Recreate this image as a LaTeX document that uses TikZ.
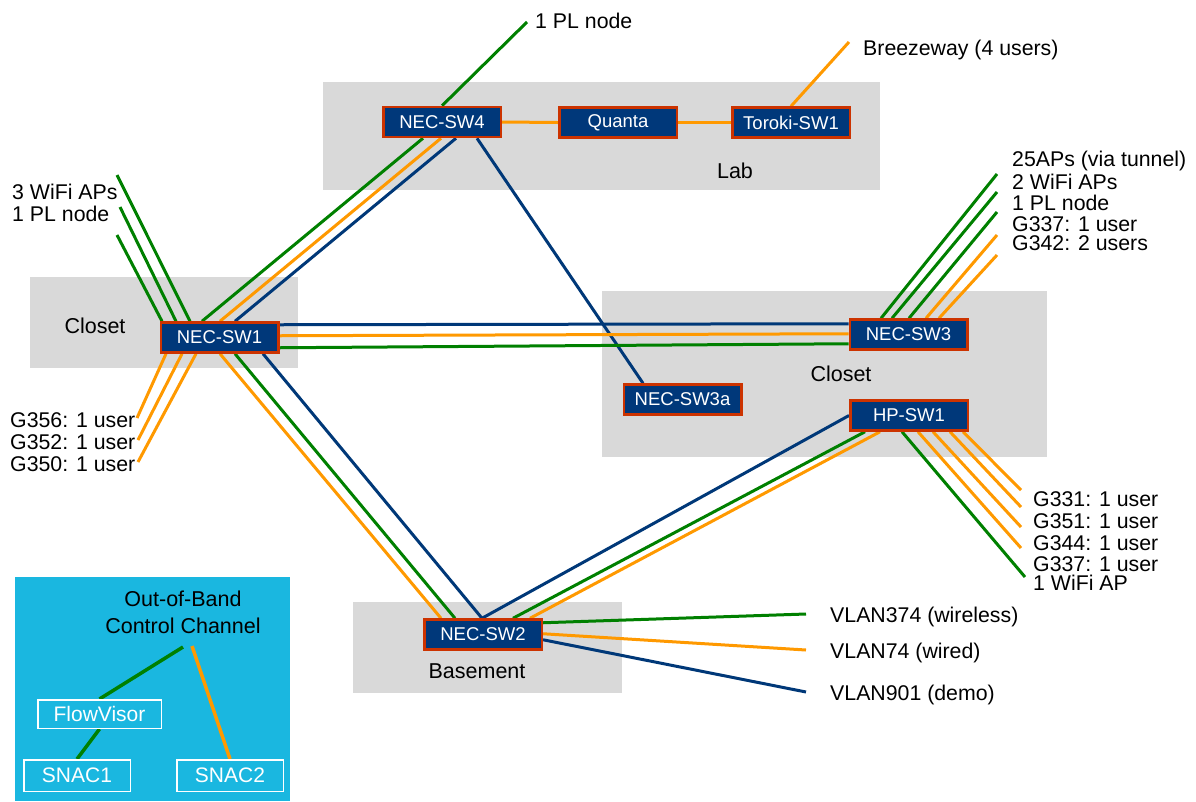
\documentclass[tikz,border=0pt]{standalone}
\usepackage{fontspec}
\setmainfont{Liberation Sans}
\pgfdeclarelayer{bgzero}
\pgfdeclarelayer{bgone}
\pgfsetlayers{bgzero,bgone,main}
\definecolor{gr}{RGB}{0,128,0}
\definecolor{og}{RGB}{255,153,0}
\definecolor{nb}{RGB}{0,56,120}
\definecolor{zone}{RGB}{217,217,217}
\definecolor{sfill}{RGB}{0,56,122}
\definecolor{sedge}{RGB}{204,51,0}
\definecolor{legbg}{RGB}{26,183,224}
\begin{document}
\begin{tikzpicture}[x=1pt,y=-1pt,
 sw/.style={draw=sedge,fill=sfill,line width=2.5pt,minimum width=117.5pt,minimum height=30pt,inner sep=0pt,text=white,font=\fontsize{18.5}{18.5}\selectfont},
 lbl/.style={font=\fontsize{21.3}{21.3}\selectfont,inner sep=0pt,anchor=base west},
 zlbl/.style={font=\fontsize{21.5}{21.5}\selectfont,inner sep=0pt,anchor=base},
 legbox/.style={draw=white,line width=1.5pt,inner sep=0pt,text=white,font=\fontsize{21}{21}\selectfont},
 gl/.style={draw=gr,line width=3pt},
 ol/.style={draw=og,line width=3pt},
 bl/.style={draw=nb,line width=3pt},
 lgl/.style={draw=gr,line width=3.5pt},
 lol/.style={draw=og,line width=3.5pt},
]
\useasboundingbox (0,0) rectangle (1196,801);
% zones
\begin{pgfonlayer}{bgzero}
\fill[zone] (323,82) rectangle (880,190);
\fill[zone] (30,277) rectangle (298,368);
\fill[zone] (602,291) rectangle (1047,457);
\fill[zone] (353,602) rectangle (622,693);
\fill[legbg] (15,577) rectangle (290,801);
\end{pgfonlayer}
\node[zlbl] (lab) at (735,178) {Lab};
\node[zlbl] (closetA) at (95,333) {Closet};
\node[zlbl] (closetB) at (841,381) {Closet};
\node[zlbl] (basement) at (477,678) {Basement};
% switches
\node[sw] (sw4) at (442,122) {NEC-SW4};
\node[sw] (qu) at (618,122.5) {Quanta};
\node[sw] (tk) at (791,122.5) {Toroki-SW1};
\node[sw] (sw1) at (219.5,337.5) {NEC-SW1};
\node[sw] (sw3) at (908.5,334.5) {NEC-SW3};
\node[sw] (sw3a) at (682.5,399.5) {NEC-SW3a};
\node[sw] (hp) at (909,415.5) {HP-SW1};
\node[sw] (sw2) at (483,634.5) {NEC-SW2};
% free ends
\coordinate (pl4) at (527,22);
\coordinate (bz) at (849,42);
\coordinate (g1) at (117,175);
\coordinate (g2) at (120,207);
\coordinate (g3) at (117,235);
\coordinate (o1) at (137,418);
\coordinate (o2) at (138,440);
\coordinate (o3) at (138,462);
\coordinate (r1) at (997,174);
\coordinate (r2) at (997,192);
\coordinate (r3) at (997,212);
\coordinate (r4) at (997,235);
\coordinate (r5) at (997,255);
\coordinate (h1) at (1021,490);
\coordinate (h2) at (1021,507);
\coordinate (h3) at (1021,527);
\coordinate (h4) at (1021,548);
\coordinate (h5) at (1025,577);
\coordinate (v1) at (806,614);
\coordinate (v2) at (806,650);
\coordinate (v3) at (806,692);
% labels
\node[lbl] (t1) at (535,28) {1 PL node};
\node[lbl] (t2) at (863,55) {Breezeway (4 users)};
\node[lbl] (t3) at (12,199) {3 WiFi APs};
\node[lbl] (t4) at (12,221) {1 PL node};
\node[lbl] (t5) at (10,427) {G356: 1 user};
\node[lbl] (t6) at (10,449) {G352: 1 user};
\node[lbl] (t7) at (10,471) {G350: 1 user};
\node[lbl] (t8) at (1012,166) {25APs (via tunnel)};
\node[lbl] (t9) at (1012,189) {2 WiFi APs};
\node[lbl] (t10) at (1012,210) {1 PL node};
\node[lbl] (t11) at (1012,231) {G337: 1 user};
\node[lbl] (t12) at (1012,250) {G342: 2 users};
\node[lbl] (t13) at (1033,506) {G331: 1 user};
\node[lbl] (t14) at (1033,528) {G351: 1 user};
\node[lbl] (t15) at (1033,550) {G344: 1 user};
\node[lbl] (t16) at (1033,571) {G337: 1 user};
\node[lbl] (t17) at (1033,590) {1 WiFi AP};
\node[lbl] (t18) at (830,622) {VLAN374 (wireless)};
\node[lbl] (t19) at (830,658) {VLAN74 (wired)};
\node[lbl] (t20) at (830,700) {VLAN901 (demo)};
% legend
\node[font=\fontsize{21.5}{27}\selectfont,align=center,inner sep=0pt] (oob) at (183,612) {Out-of-Band\\Control Channel};
\node[legbox,minimum width=123.5pt,minimum height=28.5pt] (fv) at (99.5,714) {FlowVisor};
\node[legbox,minimum width=106.5pt,minimum height=31.5pt] (sn1) at (77,775.5) {SNAC1};
\node[legbox,minimum width=106.5pt,minimum height=31.5pt] (sn2) at (230,775.5) {SNAC2};
\coordinate (oobg) at (183,647);
\coordinate (oobo) at (192,646);
\begin{pgfonlayer}{bgone}
\draw[lgl] (oobg) -- (fv.north);
\draw[lgl] (fv.south) -- (sn1.north);
\draw[lol] (oobo) -- (sn2.north);
% NEC-SW4
\draw[gl] (sw4.north) -- (pl4);
\draw[ol] (sw4.east) -- (qu.west);
\draw[ol] (qu.east) -- (tk.west);
\draw[ol] (tk.north) -- (bz);
\draw[gl] ([xshift=41pt]sw4.south west) -- ([xshift=42.5pt]sw1.north west);
\draw[ol] ([xshift=59pt]sw4.south west) -- ([xshift=60.5pt]sw1.north west);
\draw[bl] ([xshift=74pt]sw4.south west) -- ([xshift=75.5pt]sw1.north west);
\draw[bl] ([xshift=95pt]sw4.south west) -- ([xshift=20.5pt]sw3a.north west);
% NEC-SW1 leaves
\draw[gl] (g1) -- ([xshift=30.5pt]sw1.north west);
\draw[gl] (g2) -- ([xshift=16.5pt]sw1.north west);
\draw[gl] (g3) -- ([xshift=2.5pt]sw1.north west);
\draw[ol] (o1) -- ([xshift=6.5pt]sw1.south west);
\draw[ol] (o2) -- ([xshift=22.5pt]sw1.south west);
\draw[ol] (o3) -- ([xshift=36.5pt]sw1.south west);
% NEC-SW1 to NEC-SW2
\draw[ol] ([xshift=60.5pt]sw1.south west) -- ([xshift=18pt]sw2.north west);
\draw[gl] ([xshift=75.5pt]sw1.south west) -- ([xshift=32pt]sw2.north west);
\draw[bl] ([xshift=103.5pt]sw1.south west) -- ([xshift=59pt]sw2.north west);
% NEC-SW1 to NEC-SW3
\draw[bl] ([yshift=-3.5pt]sw1.north east) -- ([yshift=-5.5pt]sw3.north west);
\draw[ol] ([yshift=-14.5pt]sw1.north east) -- ([yshift=-15.5pt]sw3.north west);
\draw[gl] ([yshift=-26.5pt]sw1.north east) -- ([yshift=-25.5pt]sw3.north west);
% NEC-SW3 leaves
\draw[gl] ([xshift=32.5pt]sw3.north west) -- (r1);
\draw[gl] ([xshift=43.5pt]sw3.north west) -- (r2);
\draw[gl] ([xshift=60.5pt]sw3.north west) -- (r3);
\draw[ol] ([xshift=77.5pt]sw3.north west) -- (r4);
\draw[ol] ([xshift=90.5pt]sw3.north west) -- (r5);
% HP-SW1
\draw[bl] (hp.west) -- ([xshift=59pt]sw2.north west);
\draw[gl] ([xshift=16pt]hp.south west) -- ([xshift=90pt]sw2.north west);
\draw[ol] ([xshift=31pt]hp.south west) -- ([xshift=107pt]sw2.north west);
\draw[gl] ([xshift=53pt]hp.south west) -- (h5);
\draw[ol] ([xshift=69pt]hp.south west) -- (h4);
\draw[ol] ([xshift=84pt]hp.south west) -- (h3);
\draw[ol] ([xshift=101pt]hp.south west) -- (h2);
\draw[ol] ([xshift=114pt]hp.south west) -- (h1);
% NEC-SW2 VLANs
\draw[gl] ([yshift=-4.5pt]sw2.north east) -- (v1);
\draw[ol] ([yshift=-15.5pt]sw2.north east) -- (v2);
\draw[bl] ([yshift=-21.5pt]sw2.north east) -- (v3);
\end{pgfonlayer}
\end{tikzpicture}
\end{document}
